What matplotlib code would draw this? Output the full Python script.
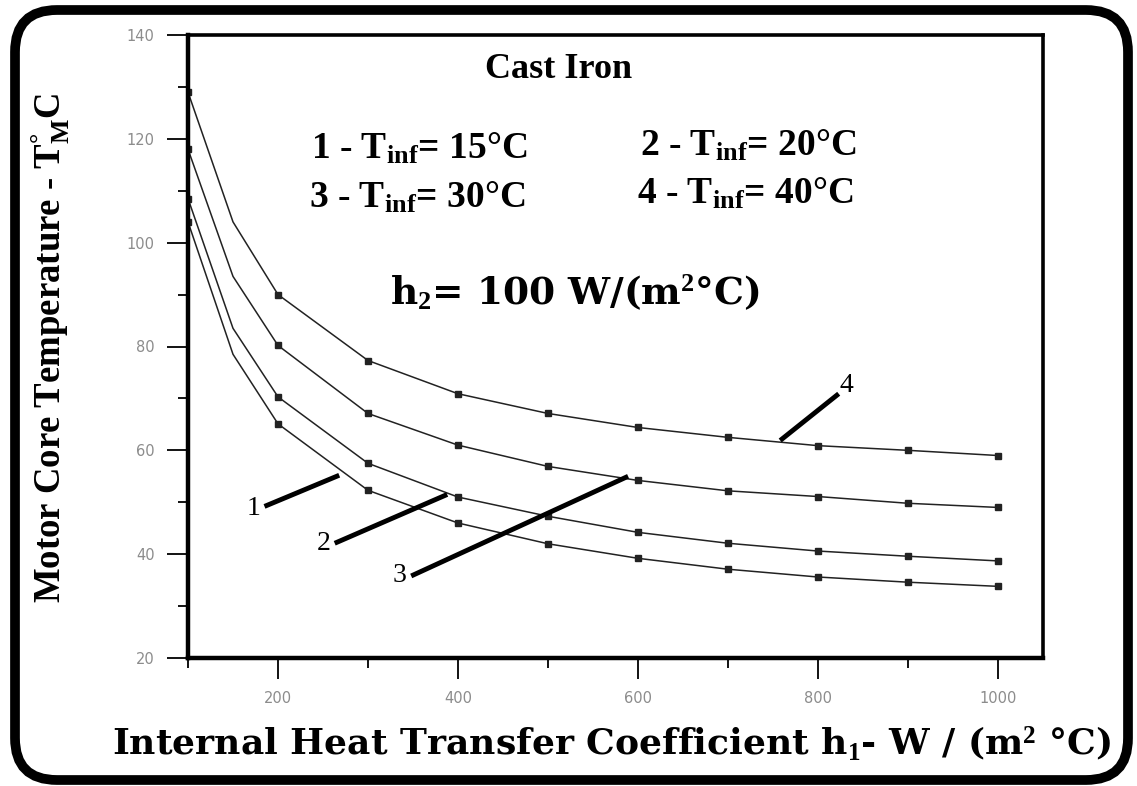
import matplotlib
matplotlib.use("Agg")
import matplotlib.pyplot as plt
from matplotlib.patches import FancyBboxPatch
from matplotlib.ticker import MultipleLocator

# ---------------------------
# DATA
# ---------------------------
h1 = [100, 150, 200, 300, 400, 500, 600, 700, 800, 900, 1000]
t_inf_15 = [104, 78.5, 65.1, 52.3, 46.0, 42.0, 39.2, 37.1, 35.6, 34.6, 33.8]
t_inf_20 = [108.5, 83.5, 70.3, 57.5, 51.0, 47.3, 44.2, 42.1, 40.6, 39.6, 38.7]
t_inf_30 = [118, 93.5, 80.2, 67.1, 61.0, 56.9, 54.2, 52.2, 51.1, 49.8, 49.0]
t_inf_40 = [129, 104, 90.0, 77.3, 70.9, 67.1, 64.4, 62.5, 60.9, 60.0, 59.0]
curves = [t_inf_15, t_inf_20, t_inf_30, t_inf_40]

# curve labels: text position, leader line start -> end (data units)
curve_labels = ["1", "2", "3", "4"]
label_text_xy = [(173, 48.8), (251, 42.1), (335, 35.8), (832, 72.4)]
leader_start = [(185, 49.2), (263, 42.1), (348, 35.8), (823, 70.9)]
leader_end = [(268, 55.2), (388, 51.5), (589, 55.0), (758, 61.9)]

# ---------------------------
# STYLE
# ---------------------------
plt.rcParams["mathtext.fontset"] = "custom"
plt.rcParams["mathtext.rm"] = "Liberation Serif:bold"
plt.rcParams["mathtext.it"] = "Liberation Serif:bold"
plt.rcParams["mathtext.bf"] = "Liberation Serif:bold"

times_bold = dict(family="Liberation Serif", weight="bold", color="black")
wide_bold = dict(family="DejaVu Serif", weight="bold", color="black")

fig = plt.figure(figsize=(11.37, 7.86), dpi=100)
ax = fig.add_axes([188 / 1137, 1 - 658 / 786, (1043 - 188) / 1137, (658 - 35) / 786])

for y in curves:
    ax.plot(h1, y, color="#222222", lw=1.1, marker="s", markersize=4,
            markevery=[0, 2, 3, 4, 5, 6, 7, 8, 9, 10])

# leader lines + numbers
for lab, txy, s, e in zip(curve_labels, label_text_xy, leader_start, leader_end):
    ax.plot([s[0], e[0]], [s[1], e[1]], color="black", lw=3.5, solid_capstyle="butt")
    ax.text(txy[0], txy[1], lab, family="Liberation Serif", fontsize=20,
            ha="center", va="center")

ax.set_xlim(100, 1050)
ax.set_ylim(20, 140)
ax.xaxis.set_major_locator(MultipleLocator(200))
ax.xaxis.set_minor_locator(MultipleLocator(100))
ax.yaxis.set_major_locator(MultipleLocator(20))
ax.yaxis.set_minor_locator(MultipleLocator(10))
ax.tick_params(which="major", direction="out", length=15, width=1.3, color="black",
               labelsize=10.5, labelcolor="#8c8c8c", pad=9)
ax.tick_params(which="minor", direction="out", length=7, width=1.3, color="black")

for side in ["left", "bottom"]:
    ax.spines[side].set_linewidth(3.2)
for side in ["top", "right"]:
    ax.spines[side].set_linewidth(2.6)

# annotations inside the plot
ax.text(0.433, 0.945, "Cast Iron", transform=ax.transAxes, fontsize=26,
        ha="center", va="center", **times_bold)
ax.text(0.27, 0.817, r"1 - T$_\mathrm{inf}$= 15°C", transform=ax.transAxes,
        fontsize=27, ha="center", va="center", **times_bold)
ax.text(0.268, 0.738, r"3 - T$_\mathrm{inf}$= 30°C", transform=ax.transAxes,
        fontsize=27, ha="center", va="center", **times_bold)
ax.text(0.655, 0.822, r"2 - T$_\mathrm{inf}$= 20°C", transform=ax.transAxes,
        fontsize=27, ha="center", va="center", **times_bold)
ax.text(0.652, 0.745, r"4 - T$_\mathrm{inf}$= 40°C", transform=ax.transAxes,
        fontsize=27, ha="center", va="center", **times_bold)
ax.text(0.453, 0.587, r"h$_2$= 100 W/(m$^2$°C)", transform=ax.transAxes,
        fontsize=27, ha="center", va="center", **wide_bold)

# axis labels
fig.text(612 / 1137, 1 - 744 / 786,
         r"Internal Heat Transfer Coefficient h$_1$- W / (m$^2$ °C)",
         fontsize=26, ha="center", va="center", **wide_bold)
fig.text(50 / 1137, 1 - 348 / 786, r"Motor Core Temperature - T$_\mathrm{M}^{°}$C",
         rotation=90, fontsize=26.5, ha="center", va="center", **times_bold)

# rounded frame around the whole figure
frame = FancyBboxPatch((0.15, 0.06), 11.13, 7.70,
                       boxstyle="round,pad=0,rounding_size=0.42",
                       transform=fig.dpi_scale_trans, fill=False,
                       lw=7, edgecolor="black")
fig.patches.append(frame)

fig.savefig("out.png", dpi=100)
